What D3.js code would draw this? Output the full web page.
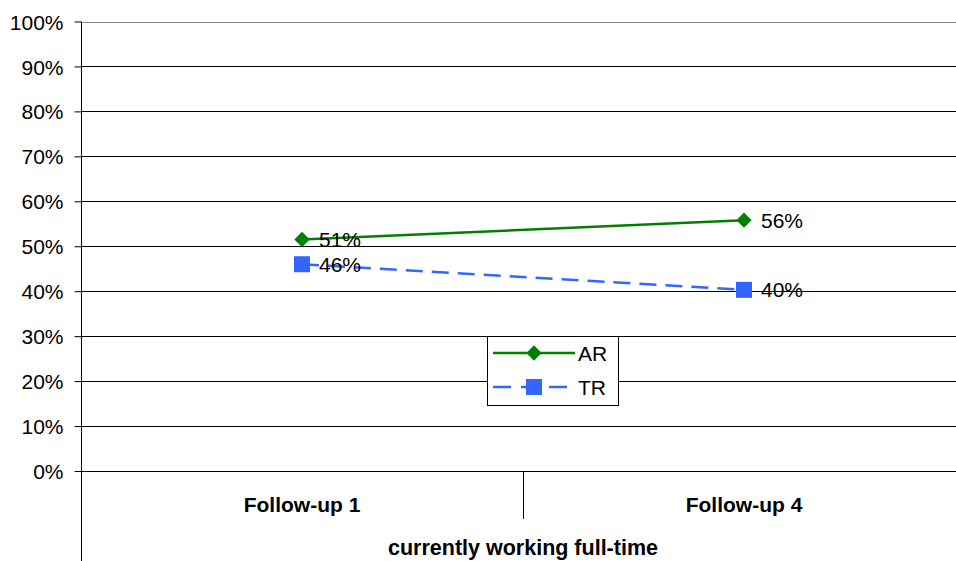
<!DOCTYPE html>
<html><head><meta charset="utf-8">
<script src="https://cdn.jsdelivr.net/npm/d3@7"></script>
<style>body{margin:0;background:#fff;}svg{display:block;font-family:"Liberation Sans",Arial,sans-serif;}</style>
</head><body><svg id="c" width="956" height="561"></svg>
<script>
const categories = ["Follow-up 1", "Follow-up 4"];
const arValues = [51.5, 55.8];
const trValues = [46.0, 40.3];
const arLabels = ["51%", "56%"];
const trLabels = ["46%", "40%"];
const yTicks = [0,10,20,30,40,50,60,70,80,90,100];
const axisTitle = "currently working full-time";

const svg = d3.select("#c");
const mLeft = 81, mRight = 965, mTop = 21.5, mBottom = 471;
const y = d3.scaleLinear().domain([0,100]).range([mBottom, mTop]);
const x = d3.scaleBand().domain(categories).range([mLeft, mRight]);
const cx = c => x(c) + x.bandwidth()/2;
const FS = 21;

// gridlines
svg.append("g").selectAll("line").data(yTicks).join("line")
  .attr("x1", mLeft).attr("x2", 956)
  .attr("y1", d => Math.round(y(d)) + 0.5).attr("y2", d => Math.round(y(d)) + 0.5)
  .attr("stroke", d => d === 100 ? "#888" : "#000").attr("stroke-width", 1);

// y axis
const ya = svg.append("g").attr("transform", `translate(${mLeft + 0.5},0)`)
  .call(d3.axisLeft(y).tickValues(yTicks).tickFormat(d => d + "%").tickSize(7).tickPadding(11));
ya.select(".domain").remove();
ya.selectAll(".tick line").attr("stroke", "#000");
ya.selectAll(".tick text").attr("font-size", FS).attr("fill", "#000").attr("dy", "0.36em")
  .style("font-family", "'Liberation Sans', Arial, sans-serif");
svg.append("line").attr("x1", mLeft + 0.5).attr("x2", mLeft + 0.5).attr("y1", mTop).attr("y2", 561).attr("stroke", "#000");

// category separator
svg.append("line").attr("x1", Math.round(x(categories[1])) + 0.5).attr("x2", Math.round(x(categories[1])) + 0.5)
  .attr("y1", mBottom).attr("y2", 519).attr("stroke", "#000");

// category labels
svg.append("g").selectAll("text").data(categories).join("text")
  .attr("x", d => cx(d)).attr("y", 512).attr("text-anchor", "middle")
  .attr("font-size", FS).attr("font-weight", "bold").text(d => d);
svg.append("text").attr("x", 523).attr("y", 555).attr("text-anchor", "middle")
  .attr("font-size", 21.5).attr("font-weight", "bold").text(axisTitle);

const line = d3.line().x(d => cx(d.c)).y(d => y(d.v));
const ar = categories.map((c,i) => ({c, v: arValues[i], l: arLabels[i]}));
const tr = categories.map((c,i) => ({c, v: trValues[i], l: trLabels[i]}));
const green = "#008000", blue = "#3366FF";

svg.append("path").datum(ar).attr("d", line).attr("fill", "none").attr("stroke", green).attr("stroke-width", 2.5);
svg.append("path").datum(tr).attr("d", line).attr("fill", "none").attr("stroke", blue).attr("stroke-width", 2.5).attr("stroke-dasharray", "17,9");

const diamond = d3.symbol().type(d3.symbolDiamond2).size(150);
svg.append("g").selectAll("path").data(ar).join("path")
  .attr("transform", d => `translate(${cx(d.c)},${y(d.v)})`).attr("d", diamond).attr("fill", green);
svg.append("g").selectAll("rect").data(tr).join("rect")
  .attr("x", d => cx(d.c) - 8).attr("y", d => y(d.v) - 8).attr("width", 16).attr("height", 16).attr("fill", blue);

svg.append("g").selectAll("text").data(ar.concat(tr)).join("text")
  .attr("x", d => cx(d.c) + 17).attr("y", d => y(d.v) + 7.5).attr("font-size", FS).attr("fill", "#000").text(d => d.l);

// legend
const lg = svg.append("g");
lg.append("rect").attr("x", 487.5).attr("y", 336.5).attr("width", 131).attr("height", 69).attr("fill", "#fff").attr("stroke", "#000");
lg.append("line").attr("x1", 493).attr("x2", 575).attr("y1", 353).attr("y2", 353).attr("stroke", green).attr("stroke-width", 2.5);
lg.append("path").attr("transform", "translate(534,353)").attr("d", diamond).attr("fill", green);
lg.append("line").attr("x1", 493).attr("x2", 575).attr("y1", 387).attr("y2", 387).attr("stroke", blue).attr("stroke-width", 2.5).attr("stroke-dasharray", "18,10");
lg.append("rect").attr("x", 526).attr("y", 379).attr("width", 16).attr("height", 16).attr("fill", blue);
lg.append("text").attr("x", 578).attr("y", 360.5).attr("font-size", FS).text("AR");
lg.append("text").attr("x", 578).attr("y", 394.5).attr("font-size", FS).text("TR");
</script></body></html>
